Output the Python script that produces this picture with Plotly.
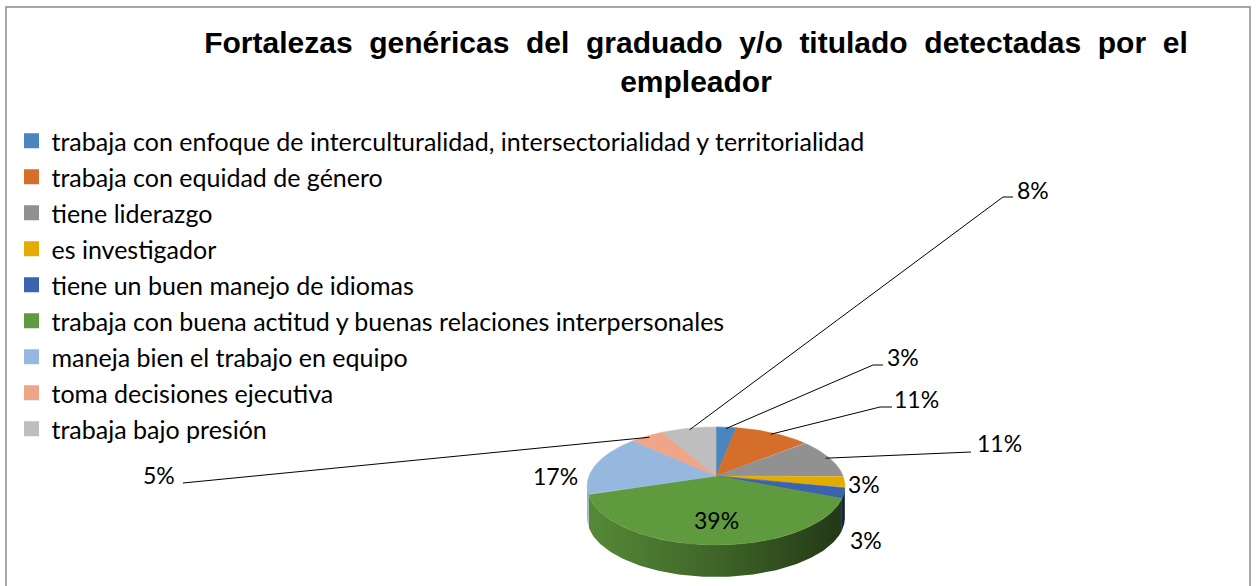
import numpy as np
import plotly.graph_objects as go

# ---------------- data ----------------
categories = [
    "trabaja con enfoque de interculturalidad, intersectorialidad y territorialidad",
    "trabaja con equidad de género",
    "tiene liderazgo",
    "es investigador",
    "tiene un buen manejo de idiomas",
    "trabaja con buena actitud y buenas relaciones interpersonales",
    "maneja bien el trabajo en equipo",
    "toma decisiones ejecutiva",
    "trabaja bajo presión",
]
percentages = [3, 11, 11, 3, 3, 39, 17, 5, 8]
title_lines = ["Fortalezas genéricas del graduado y/o titulado detectadas por el", "empleador"]

# ---------------- styles / layout ----------------
colors = ["#4A86BE", "#D46E2A", "#919191", "#E4AC00", "#3C64AE",
          "#609A3E", "#96B8DF", "#EFA587", "#BEBEBE"]

W, H = 1257, 586
AX, AY = 716, 476          # apex of the pie (pixels)
RX, RY, K = 127, 57.3, 0.169   # ellipse radii and perspective factor
DEPTH = 32

# label placement (pixels) and leader-line bends, one per slice
label_pos = [(903, 357), (916, 399), (999, 443), (864, 484), (866, 540),
             (716, 520), (555, 476), (159, 475), (1033, 190)]
leader_bends = [[(873, 365), (883, 365)], [(880, 407), (892, 407)], [(971, 452)],
                None, None, None, None,
                [(195, 482), (183, 483)], [(1003, 197), (1013, 197)]]

FONT = "Lato, Carlito, Calibri, sans-serif"


def rim(theta_deg, scale=1.0):
    t = np.radians(theta_deg)
    s = 1.0 / (1.0 + K * np.cos(t))
    return AX + scale * RX * np.sin(t) * s, AY - scale * RY * np.cos(t) * s


def shade(hex_color, f):
    h = hex_color.lstrip("#")
    r, g, b = (int(h[i:i + 2], 16) for i in (0, 2, 4))
    return "#%02x%02x%02x" % (int(r * f), int(g * f), int(b * f))


total = float(sum(percentages))
bounds = np.concatenate([[0.0], np.cumsum(percentages)]) / total * 360.0

fig = go.Figure()

# side walls (front part of the cylinder)
th_r = np.degrees(np.arccos(-K))
th_l = 360.0 - th_r
xl, _ = rim(th_l)
xr, _ = rim(th_r)
for i, c in enumerate(colors):
    lo, hi = max(bounds[i], th_r), min(bounds[i + 1], th_l)
    if lo >= hi:
        continue
    th = np.linspace(lo, hi, 120)
    x, y = rim(th)
    px = np.concatenate([x, x[::-1]])
    py = np.concatenate([y, (y + DEPTH)[::-1]])
    fig.add_trace(go.Scatter(
        x=px, y=py, mode="lines", fill="toself",
        line=dict(width=0, color=shade(c, 0.6)),
        fillgradient=dict(type="horizontal", start=xl, stop=xr,
                          colorscale=[[0, shade(c, 0.9)], [0.5, shade(c, 0.66)], [1, shade(c, 0.36)]]),
        showlegend=False, hoverinfo="skip"))

# top faces
for i, (cat, p, c) in enumerate(zip(categories, percentages, colors)):
    th = np.linspace(bounds[i], bounds[i + 1], max(8, int(p * 6)))
    x, y = rim(th)
    px = np.concatenate([[AX], x, [AX]])
    py = np.concatenate([[AY], y, [AY]])
    fig.add_trace(go.Scatter(
        x=px, y=py, mode="lines", fill="toself", fillcolor=c,
        line=dict(width=0.6, color=c), name=cat,
        showlegend=False, hoveron="fills", hoverinfo="text",
        text=f"{cat}: {p}%"))

# leader lines
for i, bends in enumerate(leader_bends):
    if not bends:
        continue
    mid = (bounds[i] + bounds[i + 1]) / 2.0
    ax_, ay_ = rim(mid, 0.97)
    xs = [ax_] + [b[0] for b in bends]
    ys = [ay_] + [b[1] for b in bends]
    fig.add_trace(go.Scatter(x=xs, y=ys, mode="lines",
                             line=dict(color="black", width=1),
                             showlegend=False, hoverinfo="skip"))

# legend entries
for i, (cat, c) in enumerate(zip(categories, colors)):
    fig.add_trace(go.Scatter(
        x=[None], y=[None], mode="markers", name=cat, legendgroup=f"g{i}",
        marker=dict(symbol="square", size=15, color=c, line=dict(width=0)),
        showlegend=True))

# percentage labels
for (lx, ly), p in zip(label_pos, percentages):
    fig.add_annotation(x=lx, y=ly, xref="x", yref="y", text=f"{p}%",
                       showarrow=False, font=dict(family=FONT, size=23, color="black"))

# chart border
fig.add_shape(type="rect", xref="x", yref="y", x0=6, y0=7, x1=1250, y1=620,
              line=dict(color="#8a8a8a", width=1.5), fillcolor="rgba(0,0,0,0)", layer="below")

title_html = "<b>" + "<br>".join(l.replace(" ", " \u00a0") for l in title_lines) + "</b>"

fig.update_layout(
    width=W, height=H,
    margin=dict(l=0, r=0, t=0, b=0),
    paper_bgcolor="white", plot_bgcolor="white",
    xaxis=dict(range=[0, W], visible=False, fixedrange=True),
    yaxis=dict(range=[H, 0], visible=False, fixedrange=True),
    showlegend=True,
    legend=dict(x=11.5 / W, y=1 - 118 / H, xanchor="left", yanchor="top",
                font=dict(family=FONT, size=25, color="black"),
                traceorder="grouped", tracegroupgap=0.5, itemwidth=30,
                bgcolor="rgba(0,0,0,0)"),
    title=dict(text=title_html, x=696 / W, xanchor="center", xref="paper",
               y=1 - 53 / H, yanchor="top", yref="container",
               font=dict(family="Liberation Sans, Arial, sans-serif", size=30, color="black")),
)

fig.write_html("out.html", config={"displayModeBar": False},
               post_script="document.body.style.margin='0';")
